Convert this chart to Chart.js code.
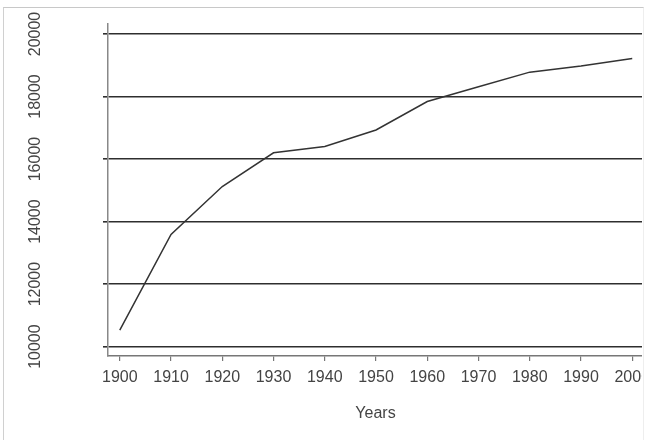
<!DOCTYPE html>
<html>
<head>
<meta charset="utf-8">
<script src="https://cdn.jsdelivr.net/npm/chart.js@4/dist/chart.umd.min.js"></script>
<style>
  html, body { margin: 0; padding: 0; background: #fff; }
  #wrap { position: relative; width: 653px; height: 440px; overflow: hidden; }
  #clip { position: absolute; left: 0; top: 0; width: 642px; height: 440px; overflow: hidden; }
  #c { position: absolute; left: 0; top: 0; }
  #frame { position: absolute; left: 3px; top: 7px; width: 639px; height: 440px;
    border-left: 1px solid #d0d0d0; border-top: 1px solid #c8c8c8; border-right: 1px solid #eee; }
</style>
</head>
<body>
<div id="wrap">
  <div id="clip"><canvas id="c" width="643" height="440"></canvas></div>
  <div id="frame"></div>
</div>
<script>
const years = [1900, 1910, 1920, 1930, 1940, 1950, 1960, 1970, 1980, 1990, 2000];
const values = [10530, 13590, 15120, 16200, 16400, 16930, 17840, 18310, 18780, 18980, 19220];
const yTicks = [10000, 12000, 14000, 16000, 18000, 20000];
const xTitle = 'Years';

const font = 'Liberation Sans, Arial, Helvetica, sans-serif';

// y labels are rotated in the reference, so draw them by hand
const yLabels = {
  id: 'yLabels',
  afterDraw(chart) {
    const ctx = chart.ctx;
    const y = chart.scales.y;
    ctx.save();
    ctx.fillStyle = '#444';
    ctx.font = '16px ' + font;
    ctx.textAlign = 'center';
    ctx.textBaseline = 'middle';
    yTicks.forEach(v => {
      ctx.save();
      ctx.translate(36, y.getPixelForValue(v));
      ctx.rotate(-Math.PI / 2);
      ctx.fillText(String(v), 0, 0);
      ctx.restore();
    });
    const a = chart.chartArea;
    ctx.fillText(xTitle, (a.left + a.right) / 2, 414);
    ctx.restore();
  }
};

new Chart(document.getElementById('c'), {
  type: 'line',
  data: {
    datasets: [{
      data: years.map((yr, i) => ({ x: yr, y: values[i] })),
      borderColor: '#333',
      borderWidth: 1.5,
      pointRadius: 0,
      tension: 0
    }]
  },
  options: {
    responsive: false,
    animation: false,
    layout: { padding: { top: 24, right: 0, left: 0, bottom: 0 } },
    plugins: { legend: { display: false }, tooltip: { enabled: false } },
    scales: {
      x: {
        type: 'linear',
        min: 1897.7,
        max: 2002.1,
        afterBuildTicks: s => { s.ticks = years.map(v => ({ value: v })); },
        afterFit: s => { s.height = 84; s.paddingLeft = 0; s.paddingRight = 0; },
        ticks: {
          color: '#444',
          font: { size: 16, family: font },
          padding: 7,
          maxRotation: 0,
          autoSkip: false,
          callback: v => String(v)
        },
        grid: { drawOnChartArea: false, tickLength: 5, color: '#777', lineWidth: 1.2 },
        border: { color: '#777', width: 1.5 }
      },
      y: {
        min: 9700,
        max: 20320,
        afterBuildTicks: s => { s.ticks = yTicks.map(v => ({ value: v })); },
        afterFit: s => { s.width = 108; },
        ticks: { display: false },
        grid: { color: '#2e2e2e', lineWidth: 1.6, tickLength: 5 },
        border: { color: '#888', width: 1.5 }
      }
    }
  },
  plugins: [yLabels]
});
</script>
</body>
</html>
